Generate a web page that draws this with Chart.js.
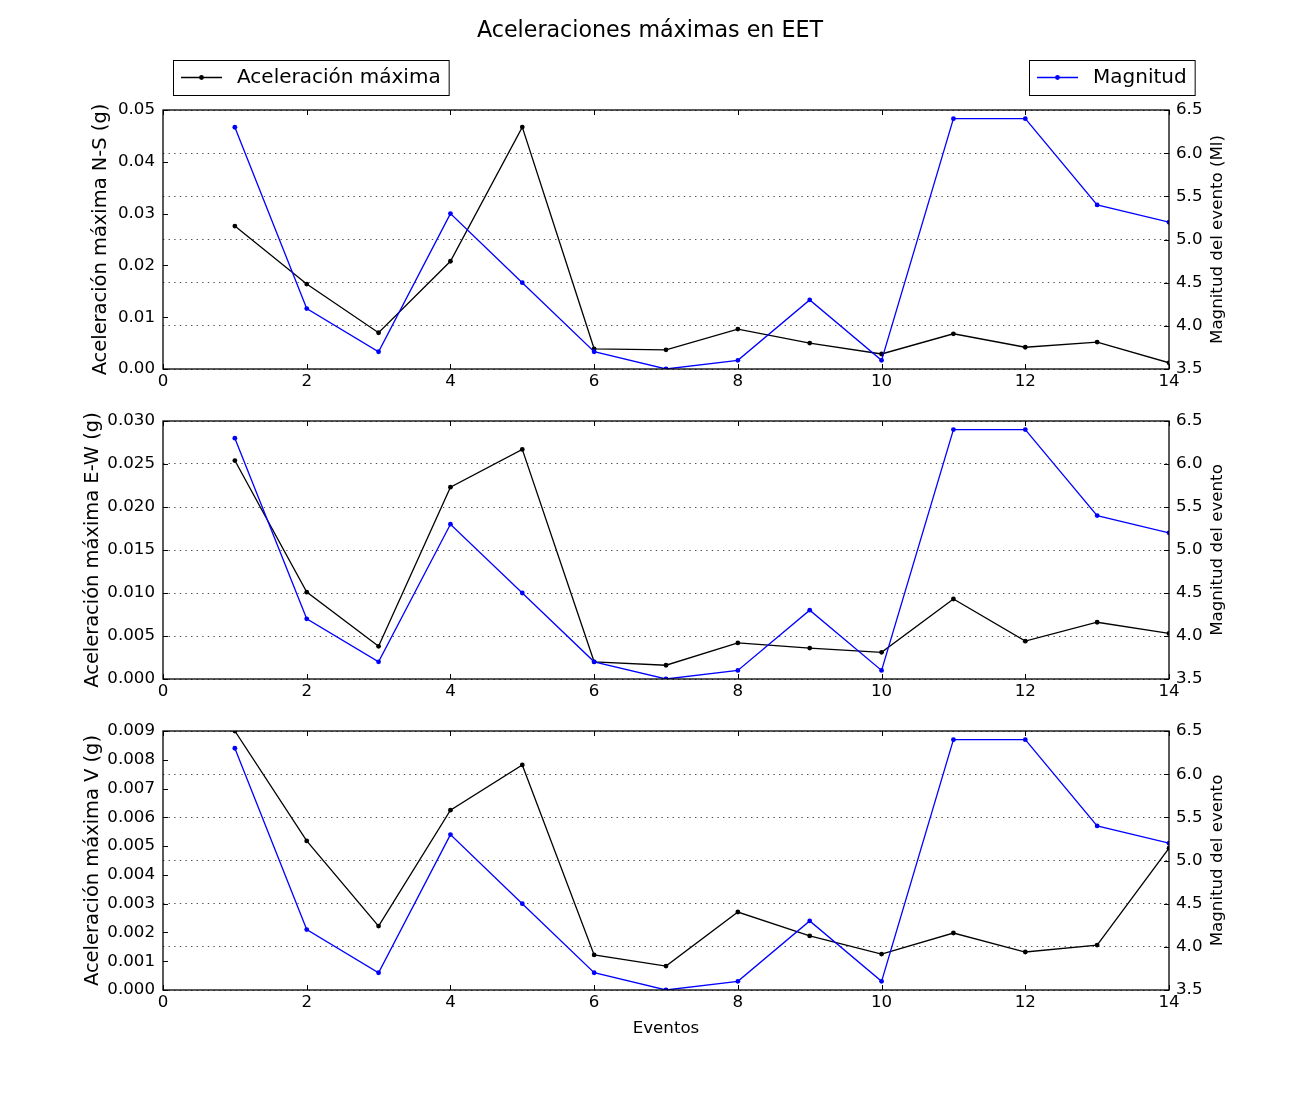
<!DOCTYPE html>
<html>
<head>
<meta charset="utf-8">
<script src="https://cdn.jsdelivr.net/npm/chart.js@4.4.0/dist/chart.umd.min.js"></script>
<style>
html,body{margin:0;padding:0;background:#fff;}
#wrap{position:relative;width:1300px;height:1100px;background:#fff;overflow:hidden;}
canvas{position:absolute;left:0;}
</style>
</head>
<body>
<div id="wrap">
<canvas id="c1" width="1300" height="400" style="top:0px"></canvas>
<canvas id="c2" width="1300" height="310" style="top:400px"></canvas>
<canvas id="c3" width="1300" height="390" style="top:710px"></canvas>
</div>
<script>
// ---- data ----
const eventos = [1, 2, 3, 4, 5, 6, 7, 8, 9, 10, 11, 12, 13, 14];
const magnitud = [6.3, 4.2, 3.7, 5.3, 4.5, 3.7, 3.5, 3.6, 4.3, 3.6, 6.4, 6.4, 5.4, 5.2];
const acelNS = [0.0276, 0.0164, 0.0070, 0.0208, 0.0467, 0.0039, 0.0037, 0.0077, 0.0050, 0.0029, 0.0068, 0.0042, 0.0052, 0.0012];
const acelEW = [0.0254, 0.0101, 0.0038, 0.0223, 0.0267, 0.0020, 0.0016, 0.0042, 0.0036, 0.0031, 0.0093, 0.0044, 0.0066, 0.0053];
const acelV  = [0.0090, 0.00518, 0.00222, 0.00625, 0.00782, 0.00122, 0.00083, 0.00271, 0.00188, 0.00125, 0.00198, 0.00132, 0.00156, 0.00493];

const xTicks = [0, 14, 2];                 // min, max, step
const magTicks = [3.5, 6.5, 0.5];          // min, max, step
const nsTicks = [0, 0.05, 0.01];
const ewTicks = [0, 0.03, 0.005];
const vTicks = [0, 0.009, 0.001];

const titulo = 'Aceleraciones máximas en EET';
const labelAcel = 'Aceleración máxima';
const labelMag = 'Magnitud';
const xTitle = 'Eventos';
const leftTitles = ['Aceleración máxima N-S (g)', 'Aceleración máxima E-W (g)', 'Aceleración máxima V (g)'];
const rightTitles = ['Magnitud del evento (Ml)', 'Magnitud del evento', 'Magnitud del evento'];

// ---- styling ----
const FONT = "'DejaVu Sans', 'Bitstream Vera Sans', sans-serif";
Chart.defaults.font.family = FONT;
Chart.defaults.color = '#000';
const TICK_PX = 16.67;
const BLUE = '#0000ff';
const BLACK = '#000000';

function pts(ys) { return eventos.map((x, i) => ({x: x, y: ys[i]})); }

function framePlugin(opts) {
  return {
    id: 'frame' + opts.idx,
    afterDraw(chart) {
      const ctx = chart.ctx;
      const a = chart.chartArea;
      const sx = chart.scales.x, sy = chart.scales.y, sy2 = chart.scales.y2;
      ctx.save();
      // inward ticks
      ctx.strokeStyle = '#000';
      ctx.lineWidth = 1;
      const L = 5;
      ctx.beginPath();
      sx.ticks.forEach(t => {
        const px = Math.round(sx.getPixelForValue(t.value)) + 0.5;
        ctx.moveTo(px, a.bottom); ctx.lineTo(px, a.bottom - L);
        ctx.moveTo(px, a.top); ctx.lineTo(px, a.top + L);
      });
      sy.ticks.forEach(t => {
        const py = Math.round(sy.getPixelForValue(t.value)) + 0.5;
        ctx.moveTo(a.left, py); ctx.lineTo(a.left + L, py);
      });
      sy2.ticks.forEach(t => {
        const py = Math.round(sy2.getPixelForValue(t.value)) + 0.5;
        ctx.moveTo(a.right, py); ctx.lineTo(a.right - L, py);
      });
      ctx.stroke();
      // frame
      ctx.lineWidth = 1.3;
      ctx.strokeRect(a.left, a.top, a.right - a.left, a.bottom - a.top);
      // right axis title (reads bottom to top)
      ctx.fillStyle = '#000';
      ctx.font = TICK_PX + 'px ' + FONT;
      ctx.textAlign = 'center';
      ctx.textBaseline = 'middle';
      ctx.translate(1218, (a.top + a.bottom) / 2);
      ctx.rotate(-Math.PI / 2);
      ctx.fillText(opts.rightTitle, 0, 0);
      ctx.restore();

      if (opts.header) {
        ctx.save();
        ctx.fillStyle = '#000';
        ctx.textAlign = 'center';
        ctx.textBaseline = 'middle';
        ctx.font = '22.2px ' + FONT;
        ctx.fillText(titulo, 650, 31);
        const drawLegend = (x0, ds) => {
          ctx.font = '20px ' + FONT;
          const tw = ctx.measureText(ds.label).width;
          const w = 64 + tw + 8;
          ctx.strokeStyle = '#000';
          ctx.lineWidth = 1;
          ctx.strokeRect(x0 + 0.5, 60.5, w, 35);
          ctx.strokeStyle = ds.borderColor;
          ctx.lineWidth = 1.3;
          ctx.beginPath();
          ctx.moveTo(x0 + 8, 77.5); ctx.lineTo(x0 + 49, 77.5);
          ctx.stroke();
          ctx.fillStyle = ds.borderColor;
          ctx.beginPath();
          ctx.arc(x0 + 28.5, 77.5, 2.4, 0, Math.PI * 2);
          ctx.fill();
          ctx.fillStyle = '#000';
          ctx.textAlign = 'left';
          ctx.fillText(ds.label, x0 + 64, 78);
        };
        const dsA = chart.data.datasets.find(d => d.yAxisID === 'y');
        const dsM = chart.data.datasets.find(d => d.yAxisID === 'y2');
        drawLegend(173, dsA);
        drawLegend(1029, dsM);
        ctx.restore();
      }
    }
  };
}

function makePanel(o) {
  const decimals = o.yt[2] < 0.01 ? 3 : 2;
  return new Chart(document.getElementById(o.id), {
    type: 'line',
    data: {
      datasets: [
        {
          label: labelMag, data: pts(magnitud), yAxisID: 'y2', xAxisID: 'x',
          borderColor: BLUE, backgroundColor: BLUE, pointBackgroundColor: BLUE, pointBorderColor: BLUE,
          borderWidth: 1.3, pointRadius: 2.4, pointBorderWidth: 0, tension: 0, fill: false, clip: 0, order: 0
        },
        {
          label: labelAcel, data: pts(o.acc), yAxisID: 'y', xAxisID: 'x',
          borderColor: BLACK, backgroundColor: BLACK, pointBackgroundColor: BLACK, pointBorderColor: BLACK,
          borderWidth: 1.3, pointRadius: 2.4, pointBorderWidth: 0, tension: 0, fill: false, clip: 0, order: 1
        }
      ]
    },
    options: {
      responsive: false,
      animation: false,
      events: [],
      layout: { padding: { top: o.padTop, left: 0, right: 0, bottom: 0 } },
      plugins: { legend: { display: false }, tooltip: { enabled: false }, title: { display: false } },
      scales: {
        x: {
          type: 'linear', position: 'bottom', min: xTicks[0], max: xTicks[1],
          ticks: { stepSize: xTicks[2], font: { size: TICK_PX }, color: '#000', padding: 3, maxRotation: 0, autoSkip: false },
          grid: { display: false, drawTicks: false },
          border: { display: false },
          title: { display: o.showX, text: xTitle, color: '#000', font: { size: TICK_PX }, padding: { top: 0, bottom: 61 } },
          afterFit: s => { s.height = o.xh; }
        },
        y: {
          type: 'linear', position: 'left', min: o.yt[0], max: o.yt[1],
          ticks: { stepSize: o.yt[2], font: { size: TICK_PX }, color: '#000', padding: 8, autoSkip: false,
                   callback: v => Number(v).toFixed(decimals) },
          grid: { display: false, drawTicks: false },
          border: { display: false },
          title: { display: true, text: o.leftTitle, color: '#000', font: { size: 19.44 }, padding: { top: o.lpad, bottom: 0 } },
          afterFit: s => { s.width = 163; }
        },
        y2: {
          type: 'linear', position: 'right', min: magTicks[0], max: magTicks[1],
          ticks: { stepSize: magTicks[2], font: { size: TICK_PX }, color: '#000', padding: 7, autoSkip: false,
                   callback: v => Number(v).toFixed(1) },
          grid: { display: true, drawOnChartArea: true, drawTicks: false, color: 'rgba(0,0,0,0.85)', lineWidth: 0.8 },
          border: { display: false, dash: [1.4, 4.2] },
          afterFit: s => { s.width = 131; }
        }
      }
    },
    plugins: [framePlugin({ idx: o.idx, rightTitle: o.rightTitle, header: o.header })]
  });
}

makePanel({ id: 'c1', idx: 1, acc: acelNS, yt: nsTicks, padTop: 110, xh: 31, lpad: 88.8, showX: false, header: true,
            leftTitle: leftTitles[0], rightTitle: rightTitles[0] });
makePanel({ id: 'c2', idx: 2, acc: acelEW, yt: ewTicks, padTop: 21, xh: 31, lpad: 81.3, showX: false, header: false,
            leftTitle: leftTitles[1], rightTitle: rightTitles[1] });
makePanel({ id: 'c3', idx: 3, acc: acelV, yt: vTicks, padTop: 21, xh: 110, lpad: 81.3, showX: true, header: false,
            leftTitle: leftTitles[2], rightTitle: rightTitles[2] });
</script>
</body>
</html>
